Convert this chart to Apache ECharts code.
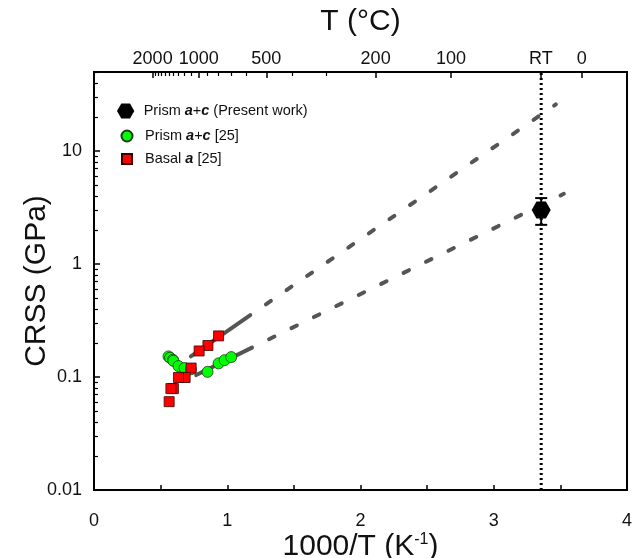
<!DOCTYPE html>
<html>
<head>
<meta charset="utf-8">
<script src="https://cdn.jsdelivr.net/npm/echarts@6/dist/echarts.min.js"></script>
<style>
  html, body { margin: 0; padding: 0; background: #fff; }
  #main { width: 633px; height: 558px; }
</style>
</head>
<body>
<div id="main"></div>
<script>
// 1000/T (1/K) vs CRSS (GPa)
const presentWork = [[3.356, 3.0]];
const presentErr = [[3.356, 2.22], [3.356, 3.83]];

const prismAC = [
  [0.559, 0.152], [0.571, 0.148], [0.592, 0.142], [0.596, 0.139],
  [0.634, 0.125], [0.679, 0.120], [0.727, 0.117], [0.852, 0.111],
  [0.935, 0.132], [0.980, 0.141], [1.030, 0.150]
];
const basalA = [
  [0.935, 0.231], [0.855, 0.190], [0.789, 0.170], [0.729, 0.120],
  [0.684, 0.099], [0.634, 0.099], [0.596, 0.079], [0.577, 0.079],
  [0.564, 0.0605]
];

// Arrhenius fits: solid over the data range, dashed extrapolation
const basalFitSolid = [[0.727, 0.152], [1.173, 0.353]];
const basalFitDash = [[1.173, 0.353], [3.466, 25.8]];
const prismFitSolid = [[0.767, 0.104], [1.186, 0.182]];
const prismFitDash = [[1.186, 0.182], [3.526, 4.18]];

const rtLine = [[3.356, 0.01], [3.356, 50]];

// tick labels
const xTicks = [0, 1, 2, 3, 4];
const yTicks = [0.01, 0.1, 1, 10];
const yMinor = [];
yTicks.forEach(d => { for (let k = 2; k <= 9; k++) if (d * k <= 50) yMinor.push(d * k); });
const tempC = [2000, 1000, 500, 200, 100, 25, 0];
const tempLabels = ['2000', '1000', '500', '200', '100', 'RT', '0'];
const tempMinorC = [1900, 1800, 1700, 1600, 1500, 1400, 1300, 1200, 1100, 900, 800, 700, 600, 400, 300];

const toInvT = c => 1000 / (c + 273.15);
const tempPos = tempC.map(toInvT);
const tempMinorPos = tempMinorC.map(toInvT);

const FONT = 'Liberation Sans, Arial, sans-serif';
const hexagon = 'path://M-10,0 L-5,-8.66 L5,-8.66 L10,0 L5,8.66 L-5,8.66 Z';
const fitColor = '#555555';
const Y_MAX = 50;

const chart = echarts.init(document.getElementById('main'));

function legendText(padLeft) {
  return {
    fontFamily: FONT, fontSize: 14.5, color: '#111', lineHeight: 16,
    padding: [0, 0, 0, padLeft],
    rich: { b: { fontStyle: 'italic', fontWeight: 'bold', fontFamily: FONT, fontSize: 14.5, color: '#111' } }
  };
}
const legendFmt = {
  'Prism a+c (Present work)': 'Prism {b|a}+{b|c} (Present work)',
  'Prism a+c [25]': 'Prism {b|a}+{b|c} [25]',
  'Basal a [25]': 'Basal {b|a} [25]'
};
function makeLegend(name, icon, left, top, w, h, padLeft) {
  return {
    data: [{ name: name, icon: icon }], left: left, top: top, padding: 0,
    itemWidth: w, itemHeight: h, textStyle: legendText(padLeft),
    formatter: n => legendFmt[n], selectedMode: false
  };
}

const axisLineStyle = { color: '#000', width: 2 };
const log10 = v => Math.log10(v);

chart.setOption({
  animation: false,
  grid: {
    left: 94, right: 6, top: 72, bottom: 68, outerBoundsMode: 'none', containLabel: false,
    show: true, borderColor: '#000', borderWidth: 2
  },
  legend: [
    makeLegend('Prism a+c (Present work)', hexagon, 117, 103, 18, 15, 4),
    makeLegend('Prism a+c [25]', 'circle', 120.5, 128, 11, 11, 7.5),
    makeLegend('Basal a [25]', 'rect', 121, 151, 10, 10, 8)
  ],
  xAxis: [
    {
      type: 'value', position: 'bottom', min: 0, max: 4, interval: 0.5,
      name: '1000/T (K{sup|-1})', nameLocation: 'middle', nameGap: 42, nameMoveOverlap: false,
      nameTextStyle: { fontFamily: FONT, fontSize: 30, color: '#111', rich: { sup: { fontSize: 16, verticalAlign: 'top', padding: [0, 0, 13, 0], fontFamily: FONT, color: '#111' } } },
      axisLine: { onZero: false, lineStyle: axisLineStyle },
      axisTick: { inside: true, length: 5, lineStyle: { color: '#000', width: 1.5 } },
      axisLabel: { customValues: xTicks, margin: 22, fontFamily: FONT, fontSize: 18, color: '#111' },
      splitLine: { show: false }
    },
    {
      type: 'value', position: 'top', min: 0, max: 4,
      name: 'T (°C)', nameLocation: 'middle', nameGap: 35, nameMoveOverlap: false,
      nameTextStyle: { fontFamily: FONT, fontSize: 30, color: '#111' },
      axisLine: { onZero: false, lineStyle: axisLineStyle },
      axisTick: { customValues: tempPos, inside: true, length: 6, lineStyle: { color: '#000', width: 1.5 } },
      axisLabel: {
        customValues: tempPos, margin: 4, fontFamily: FONT, fontSize: 18, color: '#111',
        formatter: v => { const i = tempPos.findIndex(p => Math.abs(p - v) < 1e-6); return i >= 0 ? tempLabels[i] : ''; }
      },
      splitLine: { show: false }
    },
    {
      type: 'value', position: 'top', min: 0, max: 4,
      axisLine: { show: false, onZero: false },
      axisTick: { customValues: tempMinorPos, inside: true, length: 4, lineStyle: { color: '#000', width: 1.2 } },
      axisLabel: { show: false },
      splitLine: { show: false }
    }
  ],
  yAxis: [
    {
      type: 'log', logBase: 10, min: 0.01, max: Y_MAX, position: 'left',
      name: 'CRSS (GPa)', nameLocation: 'middle', nameGap: 42, nameMoveOverlap: false,
      nameTextStyle: { fontFamily: FONT, fontSize: 30, color: '#111' },
      axisLine: { onZero: false, lineStyle: axisLineStyle },
      axisTick: { show: false },
      axisLabel: { customValues: yTicks, margin: 12, fontFamily: FONT, fontSize: 18, color: '#111', formatter: v => String(v) },
      splitLine: { show: false }
    },
    {
      // decade ticks, on the same log scale expressed as exponents
      type: 'value', min: -2, max: log10(Y_MAX), position: 'left',
      axisLine: { show: false, onZero: false },
      axisTick: { customValues: yTicks.map(log10), inside: true, length: 6, lineStyle: { color: '#000', width: 1.5 } },
      axisLabel: { show: false },
      splitLine: { show: false }
    },
    {
      type: 'value', min: -2, max: log10(Y_MAX), position: 'left',
      axisLine: { show: false, onZero: false },
      axisTick: { customValues: yMinor.map(log10), inside: true, length: 4, lineStyle: { color: '#000', width: 1.2 } },
      axisLabel: { show: false },
      splitLine: { show: false }
    }
  ],
  series: [
    {
      name: 'rt', type: 'line', data: rtLine, symbol: 'none', silent: true, z: 1,
      lineStyle: { color: '#000', width: 3, type: [2, 3] }
    },
    {
      name: 'basalFit', type: 'line', data: basalFitSolid, symbol: 'none', z: 2,
      lineStyle: { color: fitColor, width: 4, cap: 'round' }
    },
    {
      name: 'basalFitDash', type: 'line', data: basalFitDash, symbol: 'none', z: 2,
      lineStyle: { color: fitColor, width: 4, cap: 'round', type: [6, 19], dashOffset: 6 }
    },
    {
      name: 'prismFit', type: 'line', data: prismFitSolid, symbol: 'none', z: 2,
      lineStyle: { color: fitColor, width: 4, cap: 'round' }
    },
    {
      name: 'prismFitDash', type: 'line', data: prismFitDash, symbol: 'none', z: 2,
      lineStyle: { color: fitColor, width: 4, cap: 'round', type: [6, 19], dashOffset: 6 }
    },
    {
      name: 'err', type: 'line', data: presentErr, symbol: 'rect', symbolSize: [12, 2], showSymbol: true, z: 3,
      itemStyle: { color: '#000' }, lineStyle: { color: '#000', width: 2 }
    },
    {
      name: 'Prism a+c (Present work)', type: 'scatter', data: presentWork, symbol: hexagon,
      symbolSize: [19, 17], z: 4, itemStyle: { color: '#000', opacity: 1 }
    },
    {
      name: 'Prism a+c [25]', type: 'scatter', data: prismAC, symbol: 'circle', symbolSize: 11, z: 4,
      itemStyle: { color: '#00ff00', borderColor: '#1a3a1a', borderWidth: 0.8, opacity: 1 }
    },
    {
      name: 'Basal a [25]', type: 'scatter', data: basalA, symbol: 'rect', symbolSize: 10, z: 5,
      itemStyle: { color: '#ff0000', borderColor: '#3a0000', borderWidth: 0.8, opacity: 1 }
    }
  ]
});
</script>
</body>
</html>
